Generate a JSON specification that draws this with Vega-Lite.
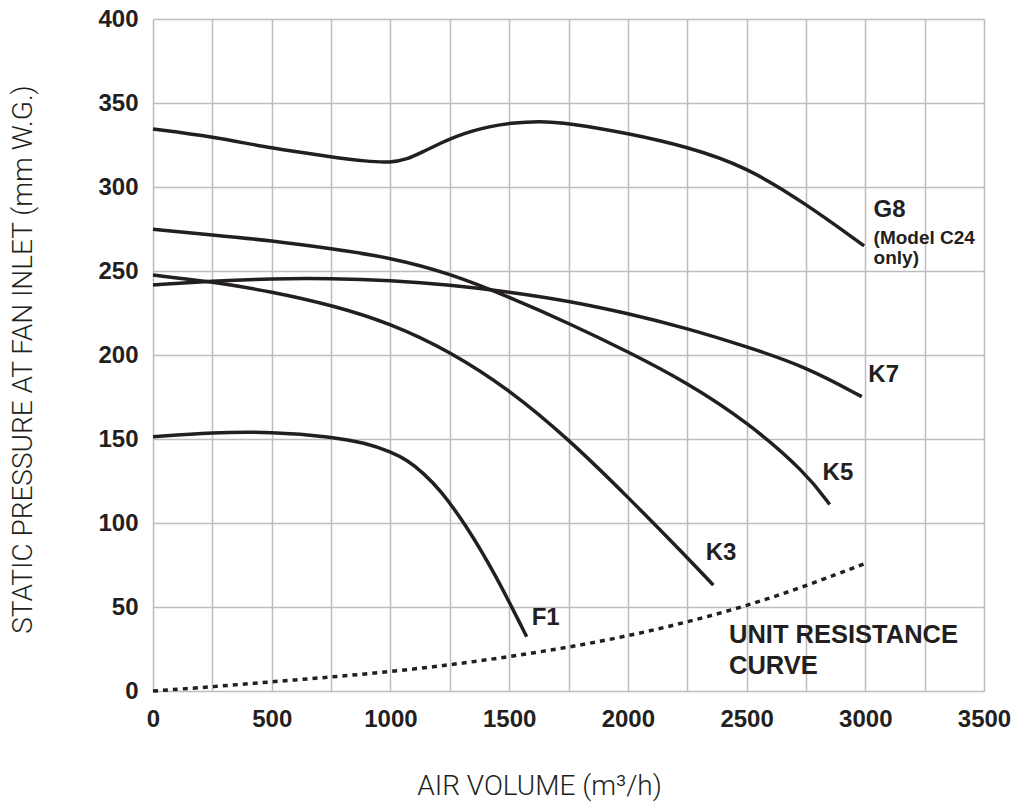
{
  "$schema": "https://vega.github.io/schema/vega-lite/v6.json",
  "autosize": "none",
  "width": 831,
  "height": 672,
  "padding": {"left": 153, "top": 19, "right": 33, "bottom": 112},
  "background": "white",
  "config": {
    "view": {"stroke": null},
    "font": "Liberation Sans",
    "axis": {
      "domain": false,
      "ticks": false,
      "tickSize": 0,
      "grid": true,
      "gridColor": "#bdbdc1",
      "gridWidth": 1.5,
      "labelFont": "Liberation Sans",
      "labelFontWeight": "bold",
      "labelFontSize": 24,
      "labelColor": "#231f20",
      "labelFlush": false,
      "labelOverlap": false,
      "titleFont": "Roboto",
      "titleFontWeight": 300,
      "titleFontSize": 28,
      "titleColor": "#231f20"
    }
  },
  "datasets": {
    "fans": [
      {"series": "G8", "airflow": 0, "pressure": 334.5},
      {"series": "G8", "airflow": 250, "pressure": 330},
      {"series": "G8", "airflow": 500, "pressure": 323},
      {"series": "G8", "airflow": 750, "pressure": 318},
      {"series": "G8", "airflow": 900, "pressure": 315.2},
      {"series": "G8", "airflow": 1000, "pressure": 314.5},
      {"series": "G8", "airflow": 1070, "pressure": 316.5},
      {"series": "G8", "airflow": 1137, "pressure": 321},
      {"series": "G8", "airflow": 1209, "pressure": 326},
      {"series": "G8", "airflow": 1280, "pressure": 330.3},
      {"series": "G8", "airflow": 1348, "pressure": 333.5},
      {"series": "G8", "airflow": 1419, "pressure": 336},
      {"series": "G8", "airflow": 1504, "pressure": 338},
      {"series": "G8", "airflow": 1625, "pressure": 339.3},
      {"series": "G8", "airflow": 1750, "pressure": 338},
      {"series": "G8", "airflow": 2000, "pressure": 332},
      {"series": "G8", "airflow": 2250, "pressure": 324},
      {"series": "G8", "airflow": 2500, "pressure": 312},
      {"series": "G8", "airflow": 2750, "pressure": 290},
      {"series": "G8", "airflow": 2995, "pressure": 265},
      {"series": "K7", "airflow": 0, "pressure": 241.7},
      {"series": "K7", "airflow": 250, "pressure": 244},
      {"series": "K7", "airflow": 500, "pressure": 245.5},
      {"series": "K7", "airflow": 750, "pressure": 245.6},
      {"series": "K7", "airflow": 1000, "pressure": 244.4},
      {"series": "K7", "airflow": 1250, "pressure": 241.8},
      {"series": "K7", "airflow": 1500, "pressure": 237.6},
      {"series": "K7", "airflow": 1750, "pressure": 232.2},
      {"series": "K7", "airflow": 2000, "pressure": 224.8},
      {"series": "K7", "airflow": 2250, "pressure": 215.9},
      {"series": "K7", "airflow": 2500, "pressure": 205},
      {"series": "K7", "airflow": 2750, "pressure": 193},
      {"series": "K7", "airflow": 2985, "pressure": 175.2},
      {"series": "K5", "airflow": 0, "pressure": 274.8},
      {"series": "K5", "airflow": 250, "pressure": 271.5},
      {"series": "K5", "airflow": 500, "pressure": 268},
      {"series": "K5", "airflow": 750, "pressure": 263.3},
      {"series": "K5", "airflow": 1000, "pressure": 258},
      {"series": "K5", "airflow": 1250, "pressure": 248.6},
      {"series": "K5", "airflow": 1500, "pressure": 234.5},
      {"series": "K5", "airflow": 1750, "pressure": 219},
      {"series": "K5", "airflow": 2000, "pressure": 202},
      {"series": "K5", "airflow": 2250, "pressure": 183.5},
      {"series": "K5", "airflow": 2500, "pressure": 160.5},
      {"series": "K5", "airflow": 2750, "pressure": 130},
      {"series": "K5", "airflow": 2850, "pressure": 111},
      {"series": "K3", "airflow": 0, "pressure": 247.6},
      {"series": "K3", "airflow": 250, "pressure": 243.6},
      {"series": "K3", "airflow": 500, "pressure": 237.7},
      {"series": "K3", "airflow": 750, "pressure": 229.8},
      {"series": "K3", "airflow": 1000, "pressure": 218.9},
      {"series": "K3", "airflow": 1250, "pressure": 202.2},
      {"series": "K3", "airflow": 1500, "pressure": 179.5},
      {"series": "K3", "airflow": 1750, "pressure": 150},
      {"series": "K3", "airflow": 2000, "pressure": 115.5},
      {"series": "K3", "airflow": 2250, "pressure": 79.5},
      {"series": "K3", "airflow": 2360, "pressure": 63},
      {"series": "F1", "airflow": 0, "pressure": 151.4},
      {"series": "F1", "airflow": 250, "pressure": 154},
      {"series": "F1", "airflow": 500, "pressure": 154.3},
      {"series": "F1", "airflow": 750, "pressure": 151.4},
      {"series": "F1", "airflow": 900, "pressure": 147.5},
      {"series": "F1", "airflow": 1000, "pressure": 142.4},
      {"series": "F1", "airflow": 1070, "pressure": 137.5},
      {"series": "F1", "airflow": 1140, "pressure": 129.6},
      {"series": "F1", "airflow": 1210, "pressure": 119.6},
      {"series": "F1", "airflow": 1315, "pressure": 99.5},
      {"series": "F1", "airflow": 1440, "pressure": 70},
      {"series": "F1", "airflow": 1574, "pressure": 32.3}
    ],
    "resistance": [
      {"airflow": 0, "pressure": 0},
      {"airflow": 250, "pressure": 2.5},
      {"airflow": 500, "pressure": 5.5},
      {"airflow": 750, "pressure": 8.3},
      {"airflow": 1000, "pressure": 11.5},
      {"airflow": 1250, "pressure": 15.5},
      {"airflow": 1500, "pressure": 20.4},
      {"airflow": 1750, "pressure": 26},
      {"airflow": 2000, "pressure": 32.7},
      {"airflow": 2250, "pressure": 41},
      {"airflow": 2500, "pressure": 50.6},
      {"airflow": 2750, "pressure": 62.5},
      {"airflow": 3000, "pressure": 76}
    ],
    "bigLabels": [
      {"label": "G8", "airflow": 3035, "pressure": 286.3},
      {"label": "K7", "airflow": 3013, "pressure": 188},
      {"label": "K5", "airflow": 2820, "pressure": 130},
      {"label": "K3", "airflow": 2328, "pressure": 82},
      {"label": "F1", "airflow": 1595, "pressure": 43.5}
    ],
    "curveLabels": [
      {"label": "UNIT RESISTANCE", "airflow": 2426, "pressure": 33.3},
      {"label": "CURVE", "airflow": 2426, "pressure": 14.9}
    ],
    "smallLabels": [
      {"label": "(Model C24", "airflow": 3035, "pressure": 269.4},
      {"label": "only)", "airflow": 3035, "pressure": 257.5}
    ]
  },
  "encoding": {
    "x": {
      "field": "airflow",
      "type": "quantitative",
      "scale": {"domain": [0, 3500], "nice": false, "zero": false},
      "axis": {
        "values": [0, 250, 500, 750, 1000, 1250, 1500, 1750, 2000, 2250, 2500, 2750, 3000, 3250, 3500],
        "labelExpr": "datum.value % 500 === 0 ? datum.label : ''",
        "format": "d",
        "labelBaseline": "middle",
        "labelPadding": 28,
        "title": "AIR VOLUME (m³/h)",
        "titleX": 386,
        "titleY": 95,
        "titleBaseline": "middle",
        "titleAlign": "center"
      }
    },
    "y": {
      "field": "pressure",
      "type": "quantitative",
      "scale": {"domain": [0, 400], "nice": false, "zero": false},
      "axis": {
        "values": [0, 50, 100, 150, 200, 250, 300, 350, 400],
        "format": "d",
        "labelPadding": 15,
        "title": "STATIC PRESSURE AT FAN INLET (mm W.G.)",
        "titleX": -130,
        "titleY": 340,
        "titleAngle": -90,
        "titleBaseline": "middle",
        "titleAlign": "center"
      }
    }
  },
  "layer": [
    {
      "data": {"name": "fans"},
      "mark": {"type": "line", "interpolate": "basis", "color": "#231f20", "strokeWidth": 3.5},
      "encoding": {"detail": {"field": "series"}}
    },
    {
      "data": {"name": "resistance"},
      "mark": {"type": "line", "interpolate": "basis", "color": "#231f20", "strokeWidth": 3.5, "strokeDash": [5, 5], "strokeCap": "butt"}
    },
    {
      "data": {"name": "bigLabels"},
      "mark": {"type": "text", "align": "left", "baseline": "middle", "font": "Liberation Sans", "fontWeight": "bold", "fontSize": 24, "color": "#231f20"},
      "encoding": {"text": {"field": "label"}}
    },
    {
      "data": {"name": "curveLabels"},
      "mark": {"type": "text", "align": "left", "baseline": "middle", "font": "Liberation Sans", "fontWeight": "bold", "fontSize": 25.5, "color": "#231f20"},
      "encoding": {"text": {"field": "label"}}
    },
    {
      "data": {"name": "smallLabels"},
      "mark": {"type": "text", "align": "left", "baseline": "middle", "font": "Liberation Sans", "fontWeight": "bold", "fontSize": 19, "color": "#231f20"},
      "encoding": {"text": {"field": "label"}}
    }
  ]
}
